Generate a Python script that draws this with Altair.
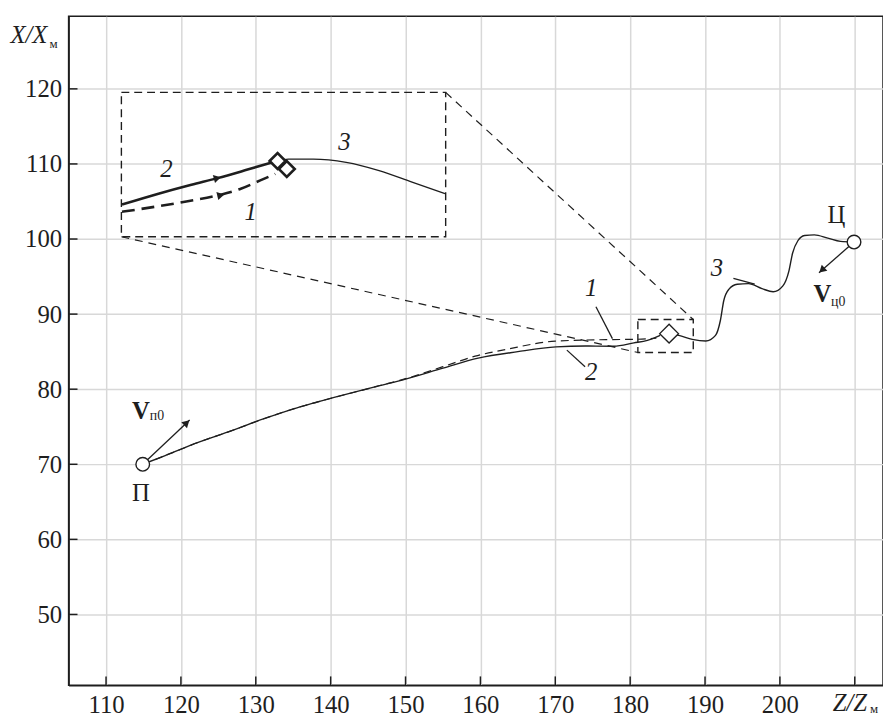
import altair as alt
import pandas as pd

# ---------------- data (axis units: Z/Zм, X/Xм) ----------------
# trajectory 2 (solid) from П to the meeting point
c2_z = [114.9, 117.9, 122.3, 126.7, 131.1, 135.5, 138.1, 146.1, 150.0, 155.0, 159.7, 165.0, 170.1, 174.0, 177.8, 180.5, 182.3, 184.0]
c2_x = [70.0, 71.15, 72.91, 74.44, 76.07, 77.52, 78.26, 80.36, 81.34, 82.8, 84.14, 85.0, 85.63, 85.75, 85.72, 86.16, 86.5, 87.17]
# trajectory 1 (dashed)
c1_z = [114.9, 117.9, 122.3, 126.7, 131.1, 135.5, 138.1, 146.1, 150.0, 155.0, 159.3, 163.6, 170.0, 176.8, 181.0, 183.5]
c1_x = [70.0, 71.15, 72.91, 74.44, 76.07, 77.52, 78.26, 80.36, 81.4, 83.0, 84.4, 85.33, 86.4, 86.6, 86.65, 86.8]
# trajectory 3 (target) from the meeting point to Ц
c3_z = [185.2, 186.5, 188.3, 190.1, 191.4, 192.05, 192.5, 193.2, 194.3, 195.8, 197.6, 199.1, 200.4, 201.2, 201.7, 202.4, 203.3, 204.6, 206.4, 208.1, 209.9]
c3_x = [87.4, 87.17, 86.64, 86.42, 87.17, 89.15, 91.78, 93.32, 93.98, 94.06, 93.4, 92.97, 93.76, 95.73, 98.14, 99.77, 100.47, 100.56, 100.12, 99.68, 99.6]

# enlarged inset (drawn in the same axis units)
i2_z = [112.13, 117.0, 121.4, 124.9, 128.9, 132.2]
i2_x = [104.59, 106.04, 107.23, 108.11, 109.25, 110.22]
i1_z = [112.13, 116.5, 120.9, 125.33, 128.0, 130.6, 132.6]
i1_x = [103.63, 104.29, 105.04, 105.91, 106.7, 107.81, 108.68]
i3_z = [132.91, 134.37, 137.67, 142.07, 146.47, 150.87, 155.27]
i3_x = [110.39, 110.65, 110.65, 110.22, 109.12, 107.58, 106.04]

# boxes: inset frame and zoomed region
box_z1 = [112.05, 181.03]
box_z2 = [155.36, 188.43]
box_x1 = [100.3, 84.89]
box_x2 = [119.53, 89.28]
# connectors between the boxes
con_z1 = [112.05, 155.36]
con_x1 = [100.3, 119.53]
con_z2 = [181.03, 188.43]
con_x2 = [84.89, 89.28]

# leader lines for curve numbers and velocity vectors
seg_z1 = [175.43, 171.55, 193.79, 114.9, 209.9]
seg_x1 = [90.99, 85.2, 94.77, 70.0, 99.6]
seg_z2 = [177.63, 173.98, 196.64, 121.17, 205.22]
seg_x2 = [86.74, 83.0, 93.98, 75.89, 95.51]

# arrow heads
head_z = [120.78, 205.61, 124.87, 125.33]
head_x = [75.52, 95.86, 108.11, 105.83]
head_angle = [316.5, 137.4, 344.8, 346.6]

# start / end points (П, Ц) and meeting points
circ_z = [114.9, 209.9]
circ_x = [70.0, 99.6]
dia_main_z = [185.2]
dia_main_x = [87.4]
dia_in_z = [134.14, 132.91]
dia_in_x = [109.33, 110.39]

# text annotations
num_text = ["1", "2", "3", "2", "1", "3"]
num_z = [174.81, 174.81, 191.58, 118.07, 129.3, 141.84]
num_x = [93.53, 82.34, 96.17, 109.25, 103.63, 112.85]

x_ticks = [110, 120, 130, 140, 150, 160, 170, 180, 190, 200, 210]
y_ticks = [50, 60, 70, 80, 90, 100, 110, 120]

# ---------------- chart ----------------
FONT = "Liberation Serif"
INK = "#1e1e1e"
W, H = 823.7, 676.7
xs = alt.Scale(domain=[105, 213.77], nice=False, zero=False)
ys = alt.Scale(domain=[40.56, 129.67], nice=False, zero=False)

xaxis = alt.Axis(values=x_ticks, title=None, grid=True, ticks=False,
                 labelExpr="datum.value == 210 ? '' : datum.label")
yaxis = alt.Axis(values=y_ticks, title=None, grid=True, ticks=False)


def X(f="z"):
    return alt.X(f"{f}:Q", scale=xs, axis=xaxis)


def Y(f="x"):
    return alt.Y(f"{f}:Q", scale=ys, axis=yaxis)


def line(zs, xv, **kw):
    df = pd.DataFrame({"z": zs, "x": xv, "o": range(len(zs))})
    return alt.Chart(df).mark_line(interpolate="monotone", color=INK, **kw).encode(
        x=X(), y=Y(), order="o:Q")


layers = []

# inward ticks
layers.append(alt.Chart(pd.DataFrame({"z": x_ticks})).mark_rule(color=INK, strokeWidth=1.5).encode(
    x=X(), y=alt.value(H), y2=alt.value(H - 9)))
layers.append(alt.Chart(pd.DataFrame({"x": y_ticks})).mark_rule(color=INK, strokeWidth=1.5).encode(
    y=Y(), x=alt.value(0), x2=alt.value(9)))

# boxes
layers.append(alt.Chart(pd.DataFrame({"z1": box_z1, "z2": box_z2, "x1": box_x1, "x2": box_x2}))
              .mark_rect(fillOpacity=0, stroke=INK, strokeWidth=1.4, strokeDash=[8, 5])
              .encode(x=X("z1"), x2="z2:Q", y=Y("x1"), y2="x2:Q"))
layers.append(alt.Chart(pd.DataFrame({"z1": con_z1, "x1": con_x1, "z2": con_z2, "x2": con_x2}))
              .mark_rule(color=INK, strokeWidth=1.2, strokeDash=[8, 6])
              .encode(x=X("z1"), y=Y("x1"), x2="z2:Q", y2="x2:Q"))

# main curves
layers.append(line(c2_z, c2_x, strokeWidth=1.4))
layers.append(line(c1_z, c1_x, strokeWidth=1.2, strokeDash=[8, 5]))
layers.append(line(c3_z, c3_x, strokeWidth=1.4))

# inset curves
layers.append(line(i2_z, i2_x, strokeWidth=2.6))
layers.append(line(i1_z, i1_x, strokeWidth=2.6, strokeDash=[13, 7]))
layers.append(line(i3_z, i3_x, strokeWidth=1.3))

# leader lines and vector shafts
layers.append(alt.Chart(pd.DataFrame({"z1": seg_z1, "x1": seg_x1, "z2": seg_z2, "x2": seg_x2}))
              .mark_rule(color=INK, strokeWidth=1.3)
              .encode(x=X("z1"), y=Y("x1"), x2="z2:Q", y2="x2:Q"))

# arrow heads
layers.append(alt.Chart(pd.DataFrame({"z": head_z, "x": head_x, "a": head_angle}))
              .mark_point(shape="triangle-right", filled=True, color=INK, opacity=1, size=70)
              .encode(x=X(), y=Y(), angle=alt.Angle("a:Q", scale=None)))

# circles and diamonds
layers.append(alt.Chart(pd.DataFrame({"z": circ_z, "x": circ_x}))
              .mark_point(shape="circle", filled=True, fill="white", stroke=INK, strokeWidth=1.4,
                          size=190, opacity=1)
              .encode(x=X(), y=Y()))
layers.append(alt.Chart(pd.DataFrame({"z": dia_main_z, "x": dia_main_x}))
              .mark_point(shape="diamond", filled=True, fill="white", stroke=INK, strokeWidth=1.4,
                          size=360, opacity=1)
              .encode(x=X(), y=Y()))
layers.append(alt.Chart(pd.DataFrame({"z": dia_in_z, "x": dia_in_x, "o": [0, 1]}))
              .mark_point(shape="diamond", filled=True, fill="white", stroke=INK, strokeWidth=2.6,
                          size=260, opacity=1)
              .encode(x=X(), y=Y(), order="o:Q"))


def text(rows, **kw):
    df = pd.DataFrame(rows, columns=["z", "x", "t"])
    return alt.Chart(df).mark_text(font=FONT, color=INK, **kw).encode(
        x=X(), y=Y(), text="t:N")


# curve numbers
layers.append(text(list(zip(num_z, num_x, num_text)), fontSize=25, fontStyle="italic",
                   baseline="middle", align="center"))
# axis names
layers.append(text([(99.7, 126.15, "X/X"), (209.35, 37.13, "Z/Z")], fontSize=25, fontStyle="italic",
                   baseline="alphabetic", align="center"))
layers.append(text([(102.45, 125.49, "м"), (212.05, 36.9, "м")], fontSize=13,
                   baseline="alphabetic", align="left"))
# point names
layers.append(text([(114.67, 65.05, "П"), (207.56, 102.09, "Ц")], fontSize=25,
                   baseline="alphabetic", align="center"))
# velocity vectors
layers.append(text([(114.67, 76.07, "V"), (205.67, 91.56, "V")], fontSize=25, fontWeight="bold",
                   baseline="alphabetic", align="center"))
layers.append(text([(115.85, 75.85, "п0"), (206.84, 91.12, "ц0")], fontSize=14,
                   baseline="alphabetic", align="left"))

chart = alt.layer(*layers).properties(
    width=W, height=H,
    background="white",
    autosize=alt.AutoSizeParams(type="none"),
    padding={"left": 61.3, "top": 4.3, "right": 0, "bottom": 28},
).configure_view(
    stroke=INK, strokeWidth=1.5
).configure_axis(
    labelFont=FONT, labelFontSize=25, labelColor=INK, labelPadding=7,
    gridColor="#d8d8d8", gridWidth=1.5, domainColor=INK, domainWidth=1.5,
    ticks=False, tickSize=0,
)

chart.save("out.html", embed_options={"renderer": "svg", "actions": False})
